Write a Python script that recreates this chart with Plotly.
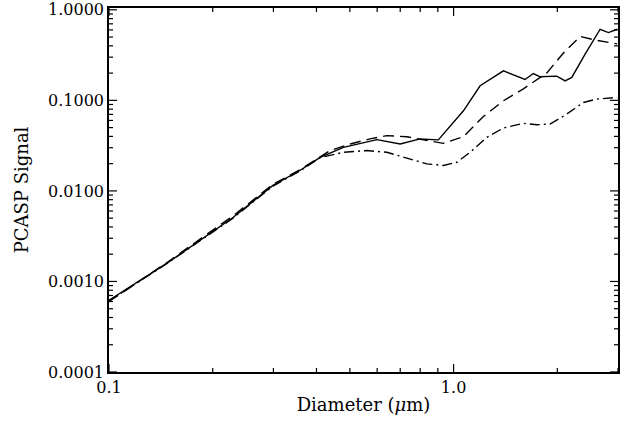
"""
PCASP signal versus particle diameter, three model curves on log-log axes.
"""

import plotly.graph_objects as go


# ============================================================
# 1. Data
# ============================================================

solid_d = [0.100, 0.147, 0.229, 0.299, 0.358, 0.410, 0.479, 0.599, 0.700,
           0.799, 0.903, 1.068, 1.194, 1.395, 1.612, 1.704, 1.783, 1.993,
           2.107, 2.203, 2.408, 2.662, 2.815, 2.983]
solid_sig = [0.00062, 0.00158, 0.00509, 0.0115, 0.0168, 0.0235, 0.0303,
             0.0368, 0.0330, 0.0375, 0.0366, 0.0767, 0.145, 0.212, 0.170,
             0.198, 0.182, 0.185, 0.164, 0.179, 0.324, 0.610, 0.560, 0.610]

dashed_d = [0.100, 0.147, 0.229, 0.299, 0.358, 0.438, 0.501, 0.572, 0.640,
            0.731, 0.817, 0.934, 1.068, 1.218, 1.395, 1.594, 1.865, 2.084,
            2.329, 2.575, 2.983]
dashed_sig = [0.00060, 0.00161, 0.00530, 0.0118, 0.0171, 0.0279, 0.0330,
              0.0375, 0.0408, 0.0397, 0.0366, 0.0335, 0.0397, 0.0659,
              0.0990, 0.134, 0.201, 0.334, 0.508, 0.464, 0.420]

dashdot_d = [0.100, 0.147, 0.229, 0.299, 0.358, 0.410, 0.479, 0.560, 0.640,
             0.747, 0.836, 0.934, 1.022, 1.117, 1.249, 1.395, 1.594, 1.744,
             1.906, 2.131, 2.381, 2.604, 2.983]
dashdot_sig = [0.00061, 0.00157, 0.00500, 0.0113, 0.0166, 0.0233, 0.0267,
               0.0279, 0.0267, 0.0226, 0.0199, 0.0191, 0.0207, 0.0267,
               0.0390, 0.0495, 0.0557, 0.0538, 0.0548, 0.0706, 0.0948,
               0.1033, 0.1076]

x_major = [0.1, 1.0]
x_major_text = ["0.1", "1.0"]
x_minor = [0.2, 0.3, 0.4, 0.5, 0.6, 0.7, 0.8, 0.9, 2.0, 3.0]

y_major = [0.0001, 0.001, 0.01, 0.1, 1.0]
y_major_text = ["0.0001", "0.0010", "0.0100", "0.1000", "1.0000"]
y_minor = [m * 10.0 ** e for e in (-4, -3, -2, -1) for m in range(2, 10)]


# ============================================================
# 2. Layout settings
# ============================================================

FONT = "DejaVu Serif"
W, H = 622, 423
M = dict(l=109, r=4, t=8, b=51)
X_RANGE = [-1, 0.4771]
Y_RANGE = [-4, 0.02]
MAJOR_LEN, MINOR_LEN = 8, 4

plot_w = W - M["l"] - M["r"]
plot_h = H - M["t"] - M["b"]


# ============================================================
# 3. Figure
# ============================================================

fig = go.Figure()

line_styles = [
    (solid_d, solid_sig, "solid"),
    (dashed_d, dashed_sig, "11px,6px"),
    (dashdot_d, dashdot_sig, "10px,4px,2px,4px"),
]
for xs, ys, dash in line_styles:
    fig.add_trace(
        go.Scatter(
            x=xs,
            y=ys,
            mode="lines",
            line=dict(color="black", width=1.4, dash=dash),
            hoverinfo="skip",
        )
    )


# Inward frame ticks as one segmented line trace (None breaks segments).
# Tick length in pixels is turned into an offset along the log axis.
def log_offset(rng, px, total_px):
    return 10 ** (rng[0] + (rng[1] - rng[0]) * px / total_px)


def log_offset_end(rng, px, total_px):
    return 10 ** (rng[1] - (rng[1] - rng[0]) * px / total_px)


tick_x, tick_y = [], []
y_lo, y_hi = 10 ** Y_RANGE[0], 10 ** Y_RANGE[1]
for vals, length in ((x_major, MAJOR_LEN), (x_minor, MINOR_LEN)):
    for v in vals:
        tick_x += [v, v, None, v, v, None]
        tick_y += [y_lo, log_offset(Y_RANGE, length, plot_h), None,
                   y_hi, log_offset_end(Y_RANGE, length, plot_h), None]

x_lo, x_hi = 10 ** X_RANGE[0], 10 ** X_RANGE[1]
for vals, length in ((y_major, MAJOR_LEN), (y_minor, MINOR_LEN)):
    for v in vals:
        tick_x += [x_lo, log_offset(X_RANGE, length, plot_w), None,
                   x_hi, log_offset_end(X_RANGE, length, plot_w), None]
        tick_y += [v, v, None, v, v, None]

fig.add_trace(
    go.Scatter(
        x=tick_x,
        y=tick_y,
        mode="lines",
        line=dict(color="black", width=1.2),
        connectgaps=False,
        hoverinfo="skip",
    )
)

axis_common = dict(
    type="log",
    automargin=False,
    showgrid=False,
    zeroline=False,
    showline=True,
    linecolor="black",
    linewidth=1.5,
    mirror=True,
    ticks="",
    tickfont=dict(family=FONT, size=16, color="black"),
    tickmode="array",
)

fig.update_xaxes(
    **axis_common,
    range=X_RANGE,
    tickvals=x_major,
    ticktext=x_major_text,
    title=dict(text="Diameter (<i>μ</i>m)",
               font=dict(family=FONT, size=18, color="black"), standoff=2),
)

fig.update_yaxes(
    **axis_common,
    range=Y_RANGE,
    tickvals=y_major,
    ticktext=y_major_text,
    title=dict(text="PCASP Signal",
               font=dict(family=FONT, size=18, color="black"), standoff=15),
)

fig.update_layout(
    width=W,
    height=H,
    margin=M,
    showlegend=False,
    plot_bgcolor="white",
    paper_bgcolor="white",
)

fig.write_html("out.html", post_script="document.body.style.margin='0';",
               config={"displayModeBar": False})
